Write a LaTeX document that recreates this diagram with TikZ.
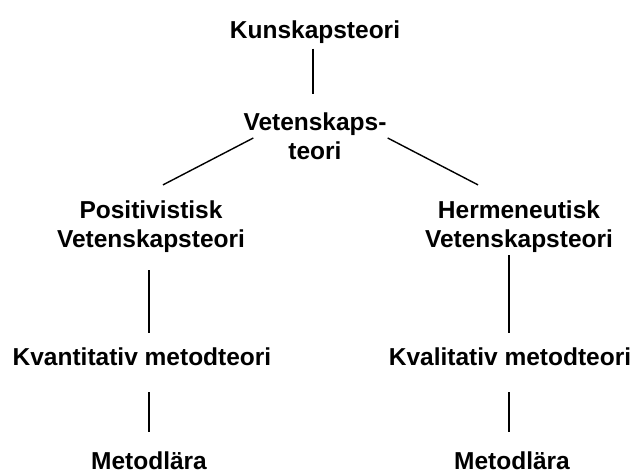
\documentclass[tikz,border=0pt]{standalone}
\usepackage{fontspec}
\setmainfont{Liberation Sans}
\usepackage{tikz}

\begin{document}
\begin{tikzpicture}[
  x=1pt, y=-1pt,
  every node/.style={
    font=\bfseries\fontsize{24.5}{29}\selectfont,
    align=center, inner sep=0pt
  },
  link/.style={draw, line width=1.4pt}
]
\useasboundingbox (0,0) rectangle (634,473);

\node (kun) at (315,32) {Kunskapsteori};
\node (vet) at (315,136) {Vetenskaps-\\teori};
\node (pos) at (151,227) {Positivistisk\\Vetenskapsteori};
\node (her) at (519,227) {Hermeneutisk\\Vetenskapsteori};
\node (kvan) at (142,357) {Kvantitativ metodteori};
\node (kval) at (510,357) {Kvalitativ metodteori};
\node (met1) at (149,461) {Metodlära};
\node (met2) at (512,461) {Metodlära};

\path[link] ([xshift=-2pt,yshift=-5pt]kun.south) -- ([xshift=-2pt,yshift=18pt]vet.north);
\path[link] ([xshift=10pt,yshift=-2pt]vet.west) -- ([xshift=12pt,yshift=16pt]pos.north);
\path[link] ([xshift=1pt,yshift=-2pt]vet.east) -- ([xshift=-41pt,yshift=16pt]her.north);
\path[link] ([xshift=-2pt,yshift=-17pt]pos.south) -- ([xshift=7pt,yshift=15pt]kvan.north);
\path[link] ([xshift=-10pt,yshift=-2pt]her.south) -- ([xshift=-1pt,yshift=15pt]kval.north);
\path[link] ([xshift=7pt,yshift=-26pt]kvan.south) -- ([yshift=20pt]met1.north);
\path[link] ([xshift=-1pt,yshift=-26pt]kval.south) -- ([xshift=-3pt,yshift=20pt]met2.north);

\end{tikzpicture}
\end{document}
